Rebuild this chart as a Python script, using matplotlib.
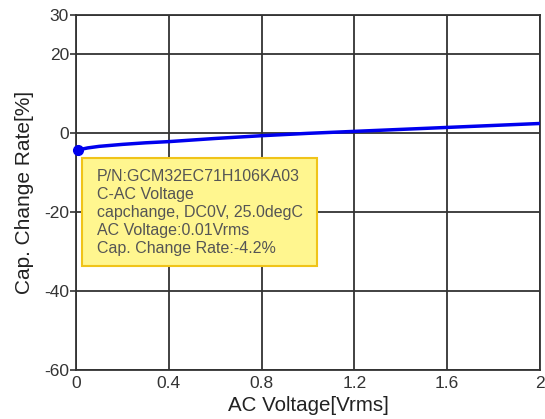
import matplotlib
matplotlib.use('Agg')
import matplotlib.pyplot as plt
from matplotlib.patches import FancyBboxPatch

plt.rcParams['font.family'] = ['Liberation Sans', 'DejaVu Sans']
plt.rcParams['axes.unicode_minus'] = False

# AC voltage sweep [Vrms] and capacitance change [%]
ac_volt = [0.01, 0.05, 0.1, 0.2, 0.3, 0.4, 0.6, 0.8, 1.0, 1.2, 1.4, 1.6, 1.8, 2.0]
cap_change = [-4.2, -3.7, -3.3, -2.8, -2.4, -2.1, -1.3, -0.6, 0.0, 0.5, 1.0, 1.5, 2.0, 2.5]
x_ticks = [0, 0.4, 0.8, 1.2, 1.6, 2]
y_ticks = [-60, -40, -20, 0, 20, 30]

tip_lines = ['P/N:GCM32EC71H106KA03',
             'C-AC Voltage',
             'capchange, DC0V, 25.0degC',
             'AC Voltage:0.01Vrms',
             'Cap. Change Rate:-4.2%']

fig = plt.figure(figsize=(5.45, 4.19), dpi=100)
ax = fig.add_axes([0.1394, 0.1169, 0.8514, 0.8473])

ax.plot(ac_volt, cap_change, color='#0000ee', lw=2.5, zorder=3)
ax.plot(ac_volt[0], cap_change[0], 'o', color='#0000ee', ms=7, zorder=4, clip_on=False)

ax.set_xlim(0, 2)
ax.set_ylim(-60, 30)
ax.set_xticks(x_ticks)
ax.set_xticklabels(['0', '0.4', '0.8', '1.2', '1.6', '2'])
ax.set_yticks(y_ticks)
ax.grid(True, color='#333333', lw=1.3)
ax.set_axisbelow(True)
for s in ax.spines.values():
    s.set_color('#333333')
    s.set_linewidth(1.3)
ax.tick_params(labelsize=12.5, colors='#333333', length=4, width=1.2, pad=1)
ax.tick_params(axis='x', length=0, pad=4)
ax.set_xlabel('AC Voltage[Vrms]', fontsize=14.8, color='#222222', labelpad=4)
ax.set_ylabel('Cap. Change Rate[%]', fontsize=15, color='#222222', labelpad=7)

# tooltip box
box = FancyBboxPatch((82, 419 - 266), 235, 108, boxstyle='square,pad=0',
                     transform=None, facecolor='#fff68f', edgecolor='#f0c419',
                     lw=1.5, zorder=5)
fig.patches.append(box)
for i, t in enumerate(tip_lines):
    fig.text(97 / 545, 1 - (176 + i * 18.2) / 419, t, fontsize=11.5,
             color='#555555', va='center', zorder=6)

fig.savefig('out.png', dpi=100)
